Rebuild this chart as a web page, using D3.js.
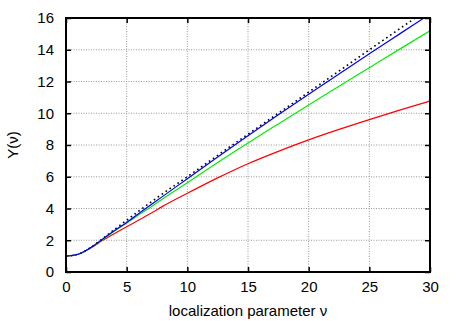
<!DOCTYPE html>
<html>
<head>
<meta charset="utf-8">
<script src="https://cdn.jsdelivr.net/npm/d3@7"></script>
<style>
  body { margin: 0; background: #fff; }
  text { font-family: "Liberation Sans", Arial, sans-serif; fill: #000; }
</style>
</head>
<body>
<div id="chart"></div>
<script>
/* DATA */
const nu      = [0, 1, 2, 3, 4, 5, 6, 7, 8, 10, 12.5, 15, 17.5, 20, 22.5, 25, 27.5, 30];
const yRed    = [1, 1.12, 1.5, 1.98, 2.42, 2.85, 3.27, 3.7, 4.15, 4.96, 5.93, 6.82, 7.6, 8.32, 8.98, 9.6, 10.2, 10.77];
const yGreen  = [1, 1.12, 1.5, 2.03, 2.58, 3.08, 3.6, 4.1, 4.62, 5.62, 6.9, 8.13, 9.33, 10.52, 11.7, 12.87, 14.04, 15.2];
const yBlue   = [1, 1.12, 1.52, 2.06, 2.62, 3.12, 3.68, 4.24, 4.78, 5.88, 7.24, 8.58, 9.9, 11.2, 12.48, 13.75, 15.0, 16.25];
const yDotted = [1, 1.12, 1.53, 2.09, 2.68, 3.26, 3.84, 4.4, 4.95, 6.0, 7.35, 8.68, 10.0, 11.33, 12.66, 14.0, 15.32, 16.65];
const xTicks = [0, 5, 10, 15, 20, 25, 30];
const yTicks = [0, 2, 4, 6, 8, 10, 12, 14, 16];

const width = 458, height = 321,
  margin = {top: 18, right: 28, bottom: 49, left: 66};

const svg = d3.select("#chart").append("svg")
  .attr("width", width)
  .attr("height", height);

const xScale = d3.scaleLinear().domain([0, 30]).range([margin.left, width - margin.right]);
const yScale = d3.scaleLinear().domain([0, 16]).range([height - margin.bottom, margin.top]);

const x0 = xScale(0), x1 = xScale(30), y0 = yScale(0), y1 = yScale(16);

// grid
svg.append("g").selectAll("line.vg")
  .data(xTicks.filter(d => d > 0 && d < 30))
  .join("line")
  .attr("x1", d => xScale(d)).attr("x2", d => xScale(d))
  .attr("y1", y0).attr("y2", y1)
  .attr("stroke", "#999").attr("stroke-width", 1).attr("stroke-dasharray", "1,1.5");
svg.append("g").selectAll("line.hg")
  .data(yTicks.filter(d => d > 0 && d < 16))
  .join("line")
  .attr("x1", x0).attr("x2", x1)
  .attr("y1", d => yScale(d)).attr("y2", d => yScale(d))
  .attr("stroke", "#999").attr("stroke-width", 1).attr("stroke-dasharray", "1,1.5");

// curves
svg.append("clipPath").attr("id", "clip")
  .append("rect").attr("x", x0).attr("y", y1).attr("width", x1 - x0).attr("height", y0 - y1);

const lineGen = d3.line()
  .x(d => xScale(d[0]))
  .y(d => yScale(d[1]))
  .curve(d3.curveMonotoneX);

const series = [
  {vals: yRed, color: "#ff0000", dash: null},
  {vals: yGreen, color: "#00ee00", dash: null},
  {vals: yDotted, color: "#000", dash: "1.6,3.2", w: 1.6},
  {vals: yBlue, color: "#0000ff", dash: null}
];

svg.append("g").attr("clip-path", "url(#clip)")
  .selectAll("path")
  .data(series)
  .join("path")
  .attr("fill", "none")
  .attr("stroke", d => d.color)
  .attr("stroke-width", d => d.w || 1.2)
  .attr("stroke-dasharray", d => d.dash)
  .attr("d", d => lineGen(nu.map((n, i) => [n, d.vals[i]])));

// axes (ticks inward on all sides)
const tl = 5;
svg.append("g").attr("transform", `translate(0,${y0})`)
  .call(d3.axisBottom(xScale).tickValues(xTicks).tickSizeInner(-tl).tickSizeOuter(0).tickPadding(9))
  .call(g => g.select(".domain").remove());
svg.append("g").attr("transform", `translate(0,${y1})`)
  .call(d3.axisTop(xScale).tickValues(xTicks).tickSizeInner(-tl).tickSizeOuter(0).tickFormat(""))
  .call(g => g.select(".domain").remove());
svg.append("g").attr("transform", `translate(${x0},0)`)
  .call(d3.axisLeft(yScale).tickValues(yTicks).tickSizeInner(-tl).tickSizeOuter(0).tickPadding(12))
  .call(g => g.select(".domain").remove());
svg.append("g").attr("transform", `translate(${x1},0)`)
  .call(d3.axisRight(yScale).tickValues(yTicks).tickSizeInner(-tl).tickSizeOuter(0).tickFormat(""))
  .call(g => g.select(".domain").remove());

svg.selectAll(".tick line").attr("stroke", "#000").attr("stroke-width", 1.5);
svg.selectAll(".tick text")
  .style("font-family", "'Liberation Sans', Arial, sans-serif")
  .style("font-size", "15px").attr("fill", "#000");

// frame
svg.append("rect")
  .attr("x", x0).attr("y", y1).attr("width", x1 - x0).attr("height", y0 - y1)
  .attr("fill", "none").attr("stroke", "#000").attr("stroke-width", 2);

// labels
svg.append("text")
  .attr("x", (x0 + x1) / 2).attr("y", 316)
  .attr("text-anchor", "middle")
  .style("font-size", "15px")
  .text("localization parameter ν");

svg.append("text")
  .attr("transform", `translate(18,${(y0 + y1) / 2}) rotate(-90)`)
  .attr("text-anchor", "middle")
  .style("font-size", "15px")
  .text("Y(ν)");
</script>
</body>
</html>
